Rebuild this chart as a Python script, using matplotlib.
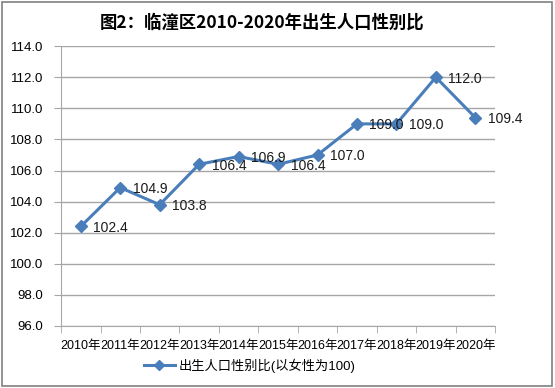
import matplotlib.pyplot as plt
from matplotlib.patches import Rectangle

plt.rcParams['font.family'] = ['Liberation Sans', 'Noto Sans CJK SC', 'DejaVu Sans']

years = ['2010年', '2011年', '2012年', '2013年', '2014年', '2015年',
         '2016年', '2017年', '2018年', '2019年', '2020年']
ratio = [102.4, 104.9, 103.8, 106.4, 106.9, 106.4, 107.0, 109.0, 109.0, 112.0, 109.4]
yticks = [96.0, 98.0, 100.0, 102.0, 104.0, 106.0, 108.0, 110.0, 112.0, 114.0]

color = '#4A7EBB'
grid = '#A6A6A6'

fig = plt.figure(figsize=(5.55, 3.88), dpi=100)
ax = fig.add_axes([0.110, 0.160, 0.782, 0.721])

x = list(range(len(years)))
ax.plot(x, ratio, color=color, lw=2.2, marker='D', ms=6.5,
        label='出生人口性别比(以女性为100)', zorder=3)
for xi, v in zip(x, ratio):
    ax.annotate(f'{v:.1f}', (xi, v), xytext=(9, -1), textcoords='offset points',
                ha='left', va='center', fontsize=10, color='#1a1a1a')

ax.set_xlim(-0.5, len(years) - 0.5)
ax.set_ylim(96, 114)
ax.set_yticks(yticks)
ax.set_yticklabels([f'{t:.1f}' for t in yticks], fontsize=9.5)
ax.set_xticks(x)
ax.set_xticklabels(years, fontsize=9)
ax.set_xticks([i - 0.5 for i in range(len(years) + 1)], minor=True)
ax.tick_params(axis='x', which='major', length=0, pad=10)
ax.tick_params(axis='x', which='minor', length=5, color=grid)
ax.tick_params(axis='y', length=5, color=grid, pad=8)
ax.grid(axis='y', color=grid, lw=1)
for side in ['top', 'right']:
    ax.spines[side].set_visible(False)
ax.spines['left'].set_color(grid)
ax.spines['bottom'].set_color(grid)

fig.text(0.472, 0.943, '图2：临潼区2010-2020年出生人口性别比', ha='center', va='center',
         fontsize=12.5, fontweight='bold', family=['Noto Sans CJK SC', 'DejaVu Sans'])

fig.legend(loc='center', bbox_to_anchor=(0.45, 0.057), frameon=False, fontsize=9.5,
           handlelength=2.4, handletextpad=0.3, markerscale=0.8)

fig.patches.append(Rectangle((0.004, 0.004), 0.99, 0.99, transform=fig.transFigure,
                             fill=False, edgecolor='#808080', lw=1.2))

fig.savefig('out.png', dpi=100)
